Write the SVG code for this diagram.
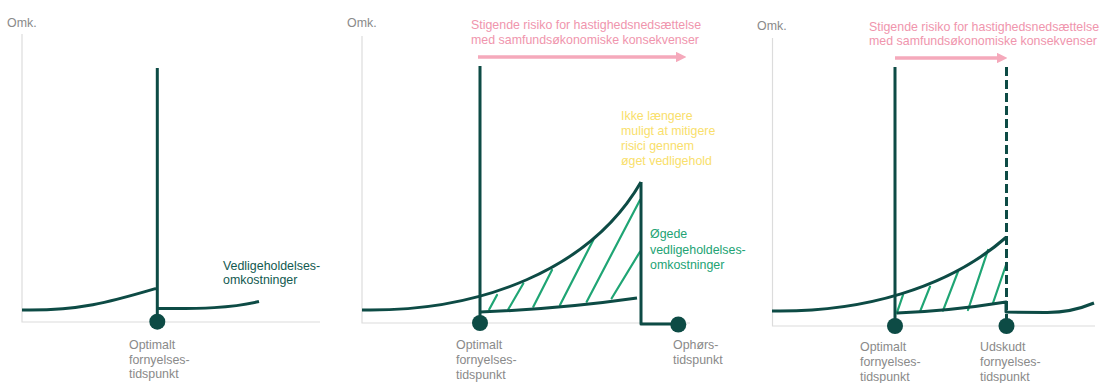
<svg xmlns="http://www.w3.org/2000/svg" width="1100" height="383" viewBox="0 0 1100 383">
  <defs>
    <marker id="pinkHead" viewBox="0 0 10 10" refX="2" refY="5" markerWidth="3" markerHeight="3" orient="auto">
      <path d="M0,0 L10,5 L0,10 z" fill="#f5a9bb"/>
    </marker>
    <style>
      text { font-family: "Liberation Sans", Arial, sans-serif; font-size: 12.4px; }
      .axis { stroke: #dcdcdc; stroke-width: 1.2; fill: none; }
      .main { stroke: #0d4b45; stroke-width: 3; fill: none; stroke-linejoin: round; }
      .dash { stroke: #0d4b45; stroke-width: 3; fill: none; stroke-dasharray: 9 4; }
      .hatch { stroke: #1fa574; stroke-width: 2.2; fill: none; stroke-linecap: round; }
      .dot { fill: #0d4b45; }
      .arrow { stroke: #f5a9bb; stroke-width: 3.5; fill: none; marker-end: url(#pinkHead); }
      .gray { fill: #8a8a8a; }
      .pink { fill: #f095ad; }
      .yellow { fill: #f9e06c; }
      .green { fill: #22a374; }
      .teal { fill: #125a50; }
    </style>
  </defs>
  <rect width="1100" height="383" fill="#ffffff"/>

  <!-- Panel 1 -->
  <g id="panel1">
    <g id="p1-axes">
      <path class="axis" d="M22,34 L22,322 L320,322"/>
      <text class="gray" x="7" y="26.5">Omk.</text>
    </g>
    <g id="p1-curves">
      <path class="main" d="M22,310 C80,311 110,302 156,288.5"/>
      <path class="main" d="M157.3,68 L157.3,322"/>
      <path class="main" d="M158,308.5 C200,309 232,308 259,301.5"/>
    </g>
    <g id="p1-point">
      <circle class="dot" cx="157.3" cy="321.7" r="8"/>
      <text class="gray" x="129" y="349">Optimalt</text>
      <text class="gray" x="129" y="363.5">fornyelses-</text>
      <text class="gray" x="129" y="378">tidspunkt</text>
    </g>
    <g id="p1-label">
      <text class="teal" x="223" y="270">Vedligeholdelses-</text>
      <text class="teal" x="223" y="284">omkostninger</text>
    </g>
  </g>

  <!-- Panel 2 -->
  <g id="panel2">
    <g id="p2-axes">
      <path class="axis" d="M362,36 L362,323 L690,323"/>
      <text class="gray" x="347" y="26.5">Omk.</text>
    </g>
    <g id="p2-risk">
      <text class="pink" x="471" y="28.5">Stigende risiko for hastighedsnedsættelse</text>
      <text class="pink" x="471" y="43.5">med samfundsøkonomiske konsekvenser</text>
      <path class="arrow" d="M478,57 L678,57"/>
    </g>
    <g id="p2-hatch">
      <path class="hatch" d="M489.3,309.3 L497,295 M508.3,309.3 L523.3,283.5 M533.3,306.7 L552,270 M560,305 L593.3,240 M586.7,301.7 L640,200 M611.7,298.3 L640,251.7"/>
    </g>
    <g id="p2-curves">
      <path class="main" d="M362,310 C480,312 590,270 641,182"/>
      <path class="main" d="M480,66 L480,323"/>
      <path class="main" d="M480,312 Q560,309 637,298"/>
      <path class="main" d="M641,182 L641,324 L678,324"/>
    </g>
    <g id="p2-points">
      <circle class="dot" cx="480" cy="323" r="8"/>
      <circle class="dot" cx="678.3" cy="324.5" r="8"/>
      <text class="gray" x="456" y="348.5">Optimalt</text>
      <text class="gray" x="456" y="363.5">fornyelses-</text>
      <text class="gray" x="456" y="378.5">tidspunkt</text>
      <text class="gray" x="673" y="348.5">Ophørs-</text>
      <text class="gray" x="673" y="363.5">tidspunkt</text>
    </g>
    <g id="p2-yellow">
      <text class="yellow" x="621" y="120">Ikke længere</text>
      <text class="yellow" x="621" y="135">muligt at mitigere</text>
      <text class="yellow" x="621" y="150">risici gennem</text>
      <text class="yellow" x="621" y="165">øget vedligehold</text>
    </g>
    <g id="p2-green">
      <text class="green" x="650" y="238">Øgede</text>
      <text class="green" x="650" y="253.5">vedligeholdelses-</text>
      <text class="green" x="650" y="269">omkostninger</text>
    </g>
  </g>

  <!-- Panel 3 -->
  <g id="panel3">
    <g id="p3-axes">
      <path class="axis" d="M772.5,38 L772.5,326 L1095,326"/>
      <text class="gray" x="757" y="30">Omk.</text>
    </g>
    <g id="p3-risk">
      <text class="pink" x="869" y="30.5">Stigende risiko for hastighedsnedsættelse</text>
      <text class="pink" x="869" y="45">med samfundsøkonomiske konsekvenser</text>
      <path class="arrow" d="M895,58 L999,58"/>
    </g>
    <g id="p3-hatch">
      <path class="hatch" d="M896.7,313.3 L903,295 M920,311.7 L930,286.7 M943,310.7 L958,271.7 M968,310 L988,250 M993,303 L1006.7,263"/>
    </g>
    <g id="p3-curves">
      <path class="main" d="M772,311 C862.3,312.5 947.9,288.3 1005.9,237.5"/>
      <path class="main" d="M895,67 L895,326"/>
      <path class="dash" d="M1006.5,67 L1006.5,326"/>
      <path class="main" d="M897,313 Q950,311 1006,302 L1006,312 L1045,312.5 Q1070,313 1094,303"/>
    </g>
    <g id="p3-points">
      <circle class="dot" cx="895" cy="326" r="8"/>
      <circle class="dot" cx="1006.5" cy="326" r="8"/>
      <text class="gray" x="860" y="350.5">Optimalt</text>
      <text class="gray" x="860" y="365.5">fornyelses-</text>
      <text class="gray" x="860" y="380.5">tidspunkt</text>
      <text class="gray" x="980" y="350.5">Udskudt</text>
      <text class="gray" x="980" y="365.5">fornyelses-</text>
      <text class="gray" x="980" y="380.5">tidspunkt</text>
    </g>
  </g>
</svg>
